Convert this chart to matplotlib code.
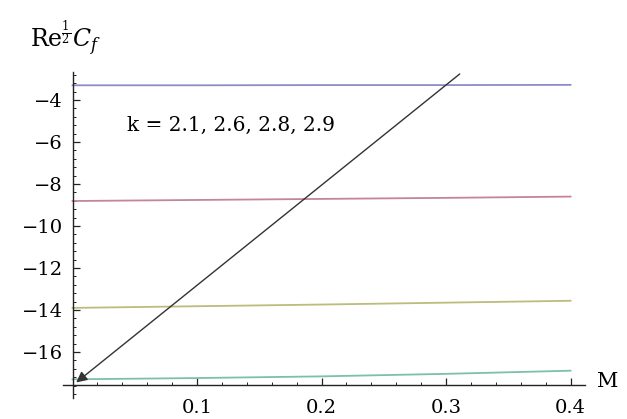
import numpy as np
import matplotlib
matplotlib.use("Agg")
import matplotlib.pyplot as plt
from matplotlib.ticker import MultipleLocator, FixedLocator, FuncFormatter

plt.rcParams['font.family'] = ['DejaVu Serif']
plt.rcParams['mathtext.fontset'] = 'dejavuserif'

# skin friction vs magnetic parameter M, one curve per k
M = [0.0, 0.1, 0.2, 0.3, 0.4]
cf_k21 = [-3.30, -3.30, -3.29, -3.29, -3.28]
cf_k26 = [-8.81, -8.76, -8.71, -8.66, -8.60]
cf_k28 = [-13.90, -13.82, -13.74, -13.65, -13.56]
cf_k29 = [-17.30, -17.24, -17.16, -17.04, -16.89]

curves = [cf_k21, cf_k26, cf_k28, cf_k29]
colors = ['#8c8cc8', '#c4849c', '#bcbc7c', '#7cc0a8']

y_ticks = [-16, -14, -12, -10, -8, -6, -4]
x_ticks = [0.1, 0.2, 0.3, 0.4]

# arrow marking the direction of increasing k
arrow_tail = (0.311, -2.76)
arrow_head = (0.003, -17.45)

fig = plt.figure(figsize=(6.27, 4.19), dpi=100)
ax = fig.add_axes([63 / 627, 21 / 419, 522 / 627, 326 / 419])

for cf, c in zip(curves, colors):
    ax.plot(M, cf, color=c, lw=1.3)

ax.annotate('', xy=arrow_head, xytext=arrow_tail,
            arrowprops=dict(arrowstyle='-|>', color='#333333', lw=1.0,
                            mutation_scale=16, shrinkA=0, shrinkB=0))

ax.text(0.044, -5.2, 'k = 2.1, 2.6, 2.8, 2.9', fontsize=14.5, va='center')

ax.set_xlim(-0.00763, 0.4116)
ax.set_ylim(-18.19, -2.667)

# axes cross like Mathematica's AxesOrigin
ax.spines['left'].set_position(('data', 0))
ax.spines['bottom'].set_position(('data', -17.57))
ax.spines['top'].set_visible(False)
ax.spines['right'].set_visible(False)
for s in ('left', 'bottom'):
    ax.spines[s].set_linewidth(1.0)
    ax.spines[s].set_color('#222222')

ax.xaxis.set_major_locator(FixedLocator(x_ticks))
ax.xaxis.set_minor_locator(MultipleLocator(0.02))
ax.yaxis.set_major_locator(FixedLocator(y_ticks))
ax.yaxis.set_minor_locator(MultipleLocator(0.4))

ax.xaxis.set_major_formatter(FuncFormatter(lambda v, p: f'{v:.1f}'))
ax.yaxis.set_major_formatter(FuncFormatter(lambda v, p: f'{v:.0f}'.replace('-', '\u2212')))

ax.tick_params(which='major', direction='in', length=5, width=0.9, labelsize=14, color='#222222')
ax.tick_params(which='minor', direction='in', length=2.5, width=0.7, color='#222222')
ax.tick_params(axis='x', pad=10)
ax.tick_params(axis='y', pad=7)

fig.text(30 / 627, 1 - 38 / 419, r'$\mathrm{Re}^{\frac{1}{2}}C_f$', fontsize=17, va='center')
fig.text(597 / 627, 1 - 381 / 419, 'M', fontsize=15, va='center')

fig.savefig('out.png', dpi=100)
